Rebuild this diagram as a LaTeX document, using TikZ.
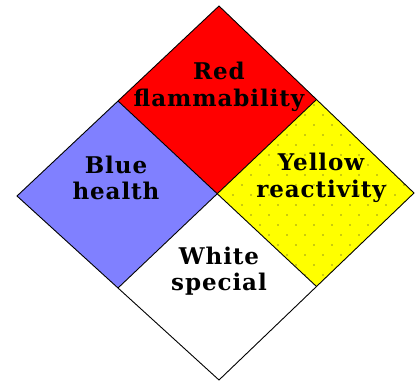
\documentclass[tikz,border=0pt]{standalone}
\usepackage{fontspec}
\setmainfont{DejaVu Serif}[LetterSpace=4]
\usepackage{tikz}
\usetikzlibrary{calc}

\definecolor{hzred}{RGB}{255,0,0}
\definecolor{hzblue}{RGB}{128,128,255}
\definecolor{hzyellow}{RGB}{255,255,0}
\definecolor{hzdot}{RGB}{150,150,30}

\tikzset{
  quad/.style={draw=black, line width=0.9pt, line join=miter},
  label/.style={align=center, font=\bfseries\fontsize{23}{26.5}\selectfont, inner sep=0pt}
}

\begin{document}
\begin{tikzpicture}[x=1pt,y=-1pt]
\useasboundingbox (0,0) rectangle (416,383);
\coordinate (T) at (219,6);
\coordinate (R) at (414,193);
\coordinate (B) at (219,380);
\coordinate (L) at (17,196);
\coordinate (TL) at ($(T)!0.5!(L)$);
\coordinate (TR) at ($(T)!0.5!(R)$);
\coordinate (BR) at ($(B)!0.5!(R)$);
\coordinate (BL) at ($(B)!0.5!(L)$);
\coordinate (C) at ($(TL)!0.5!(BR)$);
% the four quarters
\fill[hzred] (T) -- (TR) -- (C) -- (TL) -- cycle;
\fill[hzyellow] (TR) -- (R) -- (BR) -- (C) -- cycle;
\fill[hzblue] (TL) -- (C) -- (BL) -- (L) -- cycle;
\fill[white] (C) -- (BR) -- (B) -- (BL) -- cycle;
% stipple on yellow
\begin{scope}
\clip (TR) -- (R) -- (BR) -- (C) -- cycle;
\foreach \j in {0,...,20} {
  \foreach \i in {0,...,12} {
    \pgfmathsetmacro{\dx}{mod(\j,2)*9}
    \fill[hzdot] (215+\i*18+\dx,95+\j*10) circle (0.9);
  }
}
\end{scope}
% outlines
\draw[quad] (T) -- (R) -- (B) -- (L) -- cycle;
\draw[quad] (TL) -- (BR);
\draw[quad] (TR) -- (BL);
% texts
\node[label] (red) at (219,87) {Red\\flammability};
\node[label] (blue) at (116,178) {Blue\\health};
\node[label] (yellow) at (321,178) {Yellow\\reactivity};
\node[label] (white) at (219,271) {White\\special};
\end{tikzpicture}
\end{document}
